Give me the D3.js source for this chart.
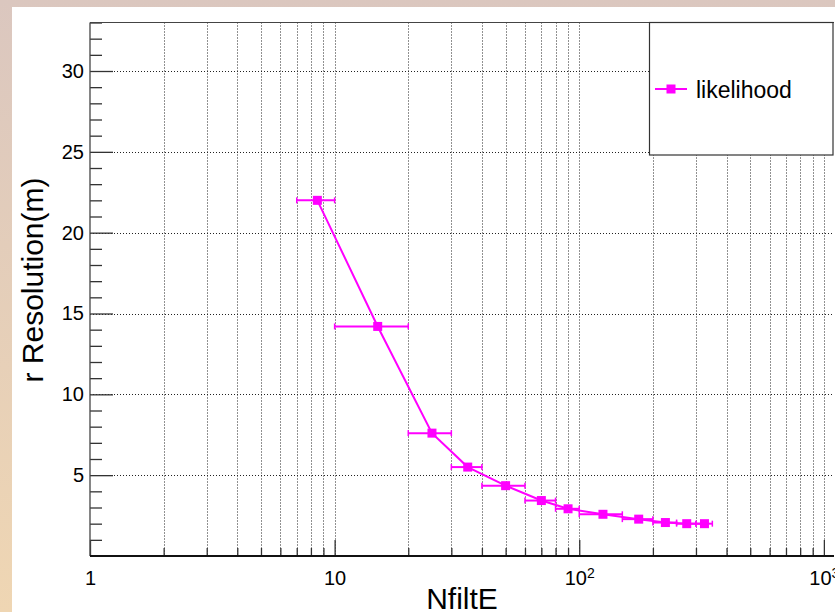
<!DOCTYPE html>
<html>
<head>
<meta charset="utf-8">
<script src="https://cdn.jsdelivr.net/npm/d3@7"></script>
<style>
  html, body { margin: 0; padding: 0; background: #fff; }
  svg { display: block; font-family: "Liberation Sans", Arial, Helvetica, sans-serif; }
</style>
</head>
<body>
<svg id="chart" width="835" height="612"></svg>
<script>
// Radial resolution vs number of filtered hits, likelihood fit
const nfiltCenter    = [8.5, 15, 25, 35, 50, 70, 90, 125, 175, 225, 275, 325];
const nfiltHalfWidth = [1.5, 5, 5, 5, 10, 10, 10, 25, 25, 25, 25, 25];
const rResolution    = [22.0, 14.2, 7.6, 5.5, 4.35, 3.43, 2.92, 2.58, 2.28, 2.07, 2.0, 2.0];

const seriesName  = "likelihood";
const xTitle      = "NfiltE";
const yTitle      = "r Resolution(m)";
const yMajorTicks = [5, 10, 15, 20, 25, 30];
const xDecades    = [1, 10, 100, 1000];
const xTickLabels = [["1", ""], ["10", ""], ["10", "2"], ["10", "3"]];

const W = 835, H = 612;
const frame = { left: 90, right: 834, top: 22.5, bottom: 556 };
const MAGENTA = "#ff00ff";

const svg = d3.select("#chart");

// page background: warm gradient strip behind a white canvas
const defs = svg.append("defs");
const grad = defs.append("linearGradient").attr("id", "bg").attr("x1", 0).attr("y1", 0).attr("x2", 0).attr("y2", 1);
grad.append("stop").attr("offset", "0%").attr("stop-color", "#dbc7bf");
grad.append("stop").attr("offset", "100%").attr("stop-color", "#efd6b3");
svg.append("rect").attr("width", W).attr("height", H).attr("fill", "url(#bg)");
svg.append("rect").attr("x", 12).attr("y", 7).attr("width", W - 12).attr("height", H - 7).attr("fill", "#fff");

const x = d3.scaleLog().domain([1, 1100]).range([frame.left, frame.right]);
const y = d3.scaleLinear().domain([0, 33]).range([frame.bottom, frame.top]);

// log-axis minor positions (2..9 within each decade)
const xMinor = [];
xDecades.forEach(d => { for (let k = 2; k <= 9; k++) if (d * k <= x.domain()[1]) xMinor.push(d * k); });
const xAllTicks = xDecades.concat(xMinor).filter(v => v > 1);
const yMinor = d3.range(1, 34).filter(v => !yMajorTicks.includes(v));

// dotted grid
const grid = svg.append("g").attr("stroke", "#222").attr("stroke-width", 1).attr("stroke-dasharray", "1,2");
grid.selectAll("line.gx").data(xAllTicks).join("line").attr("class", "gx")
  .attr("x1", d => Math.round(x(d)) + 0.5).attr("x2", d => Math.round(x(d)) + 0.5)
  .attr("y1", frame.top).attr("y2", frame.bottom);
grid.selectAll("line.gy").data(yMajorTicks).join("line").attr("class", "gy")
  .attr("x1", frame.left).attr("x2", frame.right)
  .attr("y1", d => Math.round(y(d)) + 0.5).attr("y2", d => Math.round(y(d)) + 0.5);

// y axis: major + minor ticks pointing inward
const yAxisG = svg.append("g").attr("transform", `translate(${frame.left},0)`);
yAxisG.call(d3.axisLeft(y).tickValues(yMajorTicks).tickSizeInner(-23).tickSizeOuter(0).tickPadding(6));
const yMinorG = svg.append("g").attr("transform", `translate(${frame.left},0)`);
yMinorG.call(d3.axisLeft(y).tickValues(yMinor).tickSizeInner(-12).tickSizeOuter(0).tickFormat(""));
[yAxisG, yMinorG].forEach(g => {
  g.select(".domain").remove();
  g.selectAll(".tick line").attr("stroke", "#333").attr("stroke-width", 1.3);
});
yAxisG.selectAll(".tick text").attr("font-size", 20).attr("fill", "#000");

// x axis: decades long, sub-decades short
const xAxisG = svg.append("g").attr("transform", `translate(0,${frame.bottom})`);
xAxisG.call(d3.axisBottom(x).tickValues(xDecades).tickSizeInner(-16).tickSizeOuter(0).tickPadding(15));
const xMinorG = svg.append("g").attr("transform", `translate(0,${frame.bottom})`);
xMinorG.call(d3.axisBottom(x).tickValues(xMinor).tickSizeInner(-8).tickSizeOuter(0).tickFormat(""));
[xAxisG, xMinorG].forEach(g => {
  g.select(".domain").remove();
  g.selectAll(".tick line").attr("stroke", "#333").attr("stroke-width", 1.3);
});
xAxisG.selectAll(".tick text").each(function (d, i) {
  const t = d3.select(this).text("").attr("font-size", 20).attr("fill", "#000");
  const [base, exp] = xTickLabels[i];
  t.append("tspan").text(base);
  if (exp) t.append("tspan").attr("font-size", 14).attr("dy", "-0.55em").text(exp);
});

// frame
svg.append("line").attr("x1", frame.left).attr("x2", frame.right).attr("y1", frame.top).attr("y2", frame.top)
  .attr("stroke", "#444").attr("stroke-width", 1.2);
svg.append("line").attr("x1", frame.left).attr("x2", frame.left).attr("y1", frame.top).attr("y2", frame.bottom)
  .attr("stroke", "#444").attr("stroke-width", 1.3);
svg.append("line").attr("x1", frame.left).attr("x2", frame.right).attr("y1", frame.bottom).attr("y2", frame.bottom)
  .attr("stroke", "#111").attr("stroke-width", 2);

// axis titles
svg.append("text").attr("x", (frame.left + frame.right) / 2).attr("y", 609)
  .attr("text-anchor", "middle").attr("font-size", 30).attr("fill", "#000").text(xTitle);
svg.append("text").attr("transform", `translate(43,280) rotate(-90)`)
  .attr("text-anchor", "middle").attr("font-size", 30).attr("fill", "#000").text(yTitle);

// data: connecting line, horizontal error bars with end caps, square markers
const pts = nfiltCenter.map((c, i) => ({ c, lo: c - nfiltHalfWidth[i], hi: c + nfiltHalfWidth[i], r: rResolution[i] }));
const plot = svg.append("g");
plot.append("path").datum(pts)
  .attr("d", d3.line().x(d => x(d.c)).y(d => y(d.r)))
  .attr("fill", "none").attr("stroke", MAGENTA).attr("stroke-width", 2);
plot.selectAll("line.eb").data(pts).join("line").attr("class", "eb")
  .attr("x1", d => x(d.lo)).attr("x2", d => x(d.hi)).attr("y1", d => y(d.r)).attr("y2", d => y(d.r))
  .attr("stroke", MAGENTA).attr("stroke-width", 2);
plot.selectAll("line.capl").data(pts).join("line").attr("class", "capl")
  .attr("x1", d => x(d.lo)).attr("x2", d => x(d.lo)).attr("y1", d => y(d.r) - 3).attr("y2", d => y(d.r) + 3)
  .attr("stroke", MAGENTA).attr("stroke-width", 1.5);
plot.selectAll("line.caph").data(pts).join("line").attr("class", "caph")
  .attr("x1", d => x(d.hi)).attr("x2", d => x(d.hi)).attr("y1", d => y(d.r) - 3).attr("y2", d => y(d.r) + 3)
  .attr("stroke", MAGENTA).attr("stroke-width", 1.5);
const MS = 9;
plot.selectAll("rect.mk").data(pts).join("rect").attr("class", "mk")
  .attr("x", d => x(d.c) - MS / 2).attr("y", d => y(d.r) - MS / 2)
  .attr("width", MS).attr("height", MS).attr("fill", MAGENTA);

// legend box
const lg = svg.append("g");
lg.append("rect").attr("x", 649.5).attr("y", frame.top).attr("width", 833 - 649.5).attr("height", 155 - frame.top)
  .attr("fill", "#fff").attr("stroke", "#333").attr("stroke-width", 1.2);
lg.append("line").attr("x1", 655).attr("x2", 687).attr("y1", 89).attr("y2", 89)
  .attr("stroke", MAGENTA).attr("stroke-width", 2);
lg.append("rect").attr("x", 671 - MS / 2).attr("y", 89 - MS / 2).attr("width", MS).attr("height", MS).attr("fill", MAGENTA);
lg.append("text").attr("x", 696).attr("y", 98).attr("font-size", 23).attr("fill", "#000").text(seriesName);
</script>
</body>
</html>
